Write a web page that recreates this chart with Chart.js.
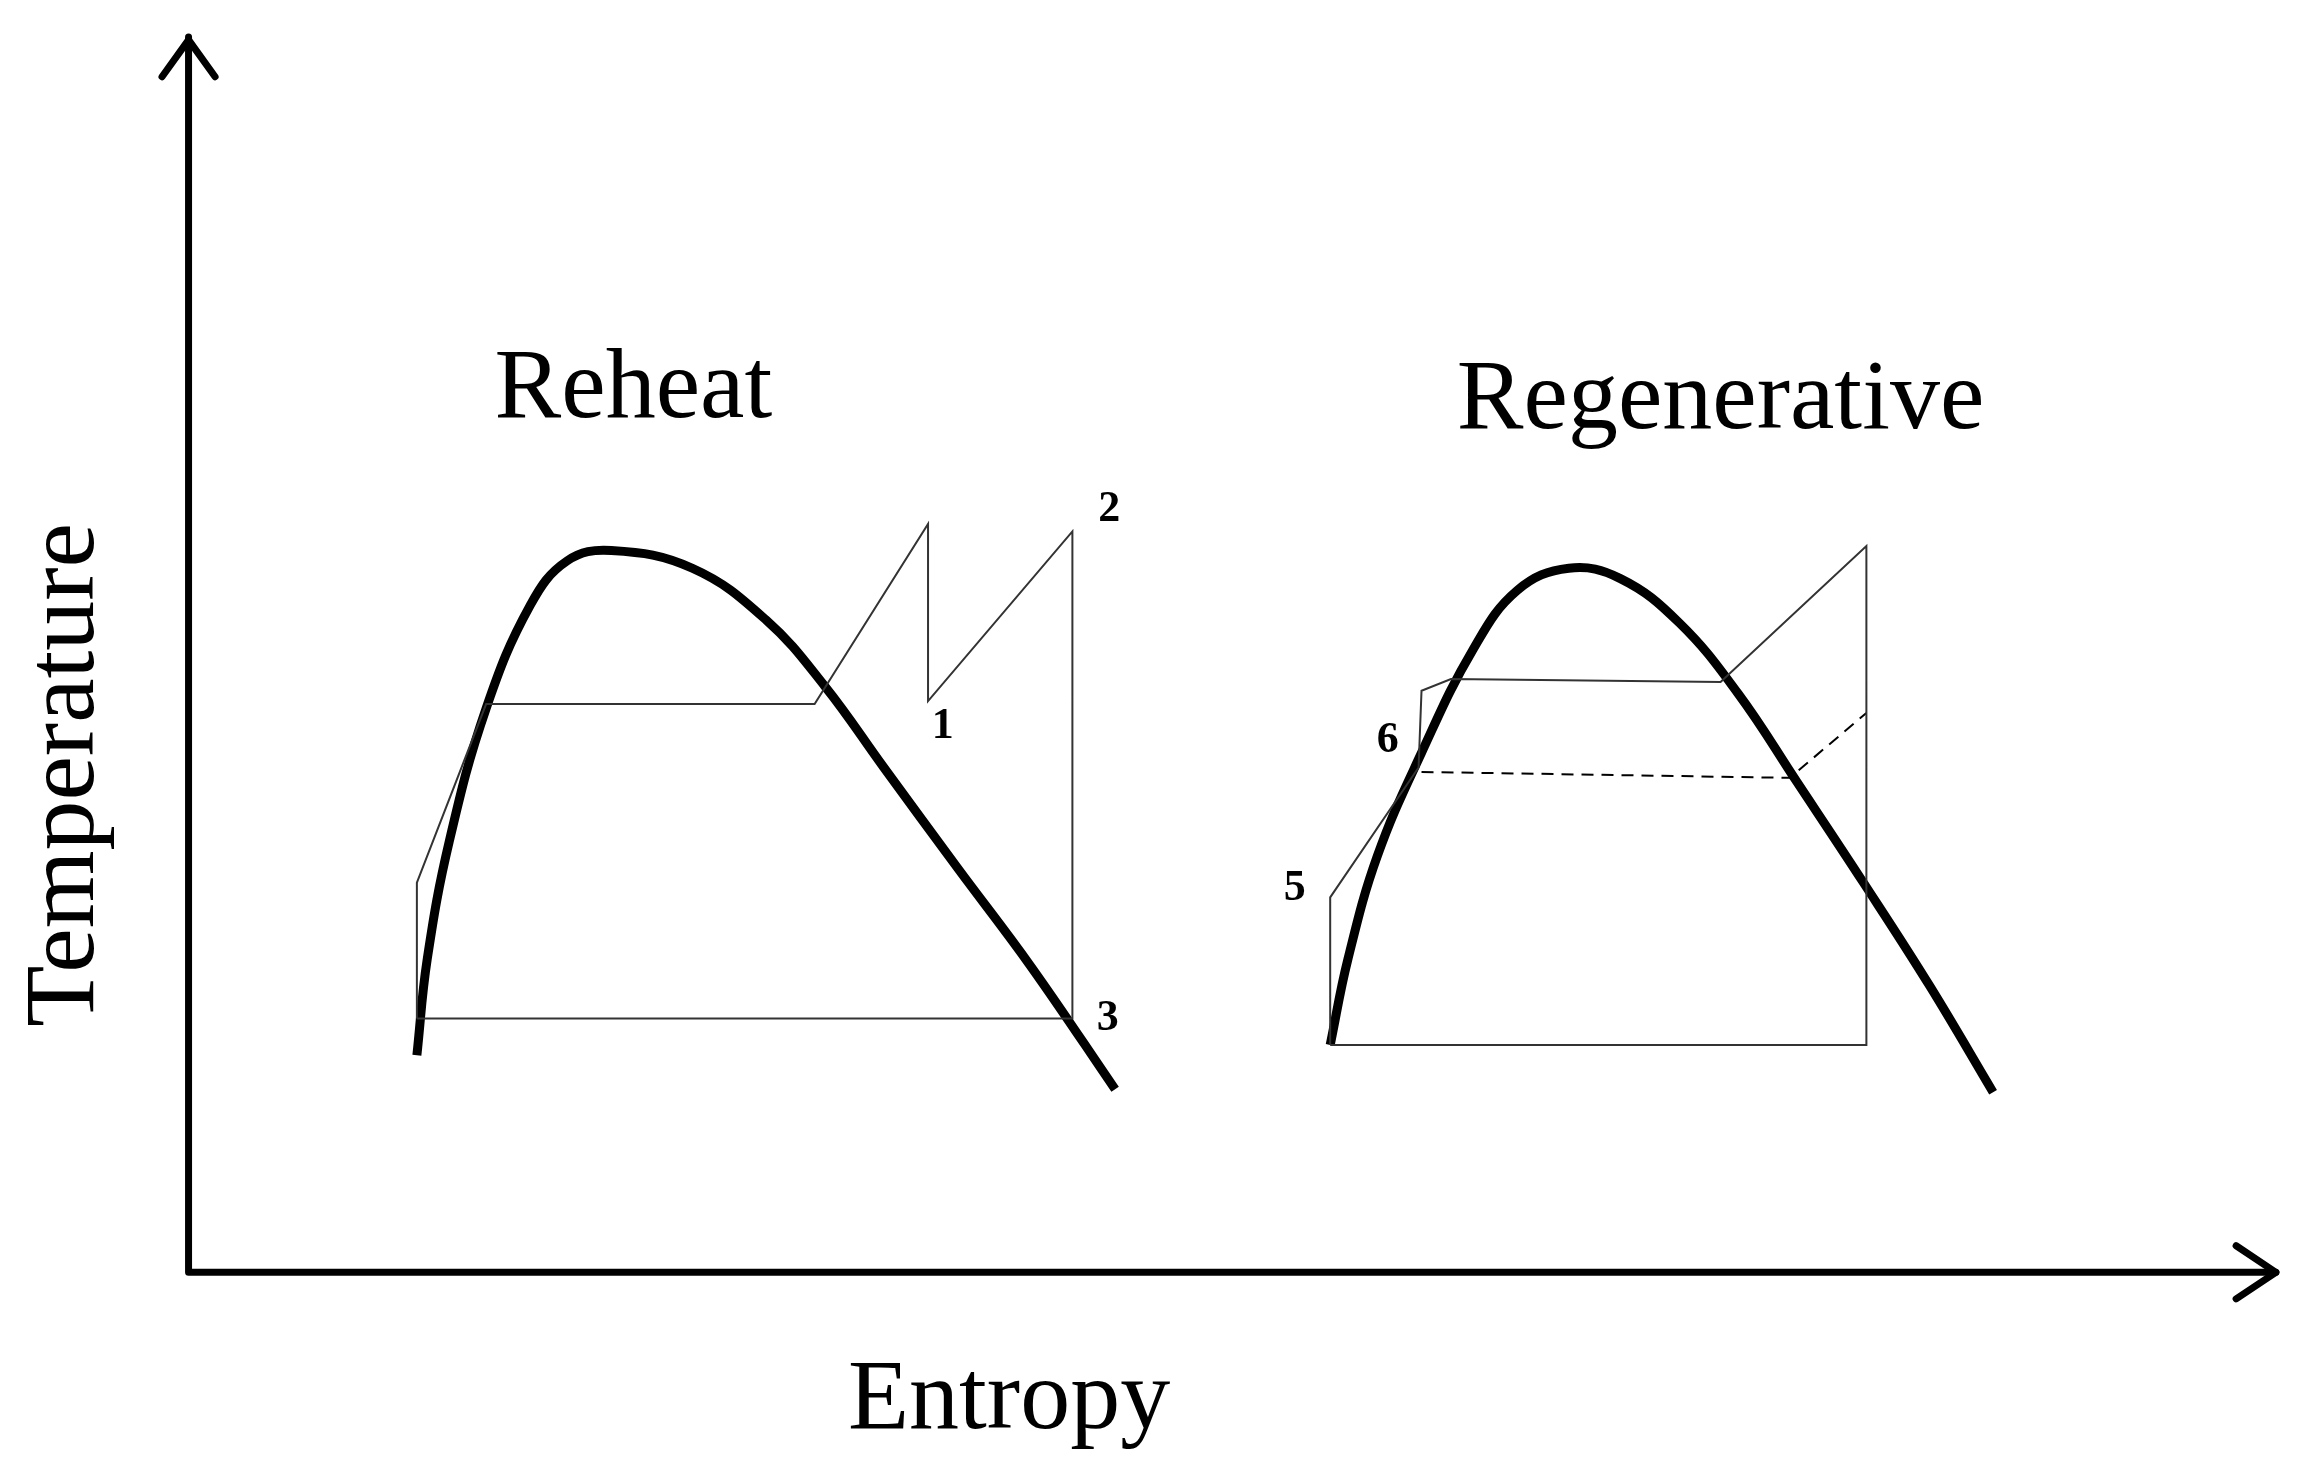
<!DOCTYPE html>
<html><head><meta charset="utf-8">
<script src="https://cdn.jsdelivr.net/npm/chart.js@4"></script>
<style>html,body{margin:0;padding:0;background:#fff}#w{width:2298px;height:1476px}</style>
</head><body><div id="w"><canvas id="c"></canvas></div>
<script>
// Values (entropy = x, temperature = y, image units)
const reheatDomeS = [283,290,305,330,360,385,415,470,520,560,600,650,700,757];
const reheatDomeT = [715,650,570,480,410,380,373,385,420,465,520,588,655,738];
const reheatCycleS = [283,283,330,553,630,630,728,728,283];
const reheatCycleT = [690,598,477,477,355,475,360,690,690];
const regenDomeS = [903,915,935,965,1000,1030,1065,1100,1140,1180,1220,1265,1310,1353];
const regenDomeT = [708,650,580,510,440,400,385,392,422,470,530,598,668,740];
const regenCycleS = [903,903,963,965,985,1168,1267,1267,903];
const regenCycleT = [708,608,520,468,460,462,370,708,708];
const bleedS = [965,1215,1267];
const bleedT = [523,527,483];
const pointLabels = [["2",753,345],["1",640,492],["3",752,690],["6",942,502],["5",879,602]];
const titles = [["Reheat",430,265],["Regenerative",1168,272]];

const pts=(xs,ys)=>xs.map((x,i)=>({x,y:ys[i]}));
const F='"Liberation Serif","DejaVu Serif",serif';
const deco={id:'deco',afterDraw(ch){
  const c=ch.ctx,X=v=>ch.scales.x.getPixelForValue(v),Y=v=>ch.scales.y.getPixelForValue(v);
  c.save();c.strokeStyle='#000';c.fillStyle='#000';c.lineWidth=7;c.lineCap='round';c.lineJoin='round';
  c.beginPath();c.moveTo(X(128),Y(25));c.lineTo(X(128),Y(862));c.lineTo(X(1545),Y(862));c.stroke();
  c.beginPath();c.moveTo(X(110),Y(52));c.lineTo(X(128),Y(27));c.lineTo(X(146),Y(52));c.stroke();
  c.beginPath();c.moveTo(X(1518),Y(844));c.lineTo(X(1545),Y(862));c.lineTo(X(1518),Y(880));c.stroke();
  c.textAlign='center';c.textBaseline='middle';
  c.font='100px '+F;
  titles.forEach(t=>c.fillText(t[0],X(t[1]),Y(t[2])));
  c.fillText('Entropy',X(685),Y(950));
  c.save();c.translate(X(45),Y(525));c.rotate(-Math.PI/2);c.fillText('Temperature',0,0);c.restore();
  c.font='bold 44px '+F;
  pointLabels.forEach(t=>c.fillText(t[0],X(t[1]),Y(t[2])));
  c.restore();}};
const thin={borderColor:'#333',borderWidth:2,pointRadius:0,fill:false,tension:0};
const thick={borderColor:'#000',borderWidth:9,pointRadius:0,fill:false,tension:0.4};
new Chart(document.getElementById('c'),{type:'scatter',
 data:{datasets:[
  {...thin,data:pts(reheatCycleS,reheatCycleT),showLine:true},
  {...thin,data:pts(regenCycleS,regenCycleT),showLine:true},
  {...thin,data:pts(bleedS,bleedT),showLine:true,borderDash:[12,8],borderColor:'#000'},
  {...thick,data:pts(reheatDomeS,reheatDomeT),showLine:true},
  {...thick,data:pts(regenDomeS,regenDomeT),showLine:true}]},
 options:{responsive:true,maintainAspectRatio:false,animation:false,layout:{padding:0},
  plugins:{legend:{display:false},tooltip:{enabled:false}},
  scales:{x:{type:'linear',min:0,max:1560,display:false},y:{type:'linear',min:0,max:1000,reverse:true,display:false}}},
 plugins:[deco]});
</script></body></html>
